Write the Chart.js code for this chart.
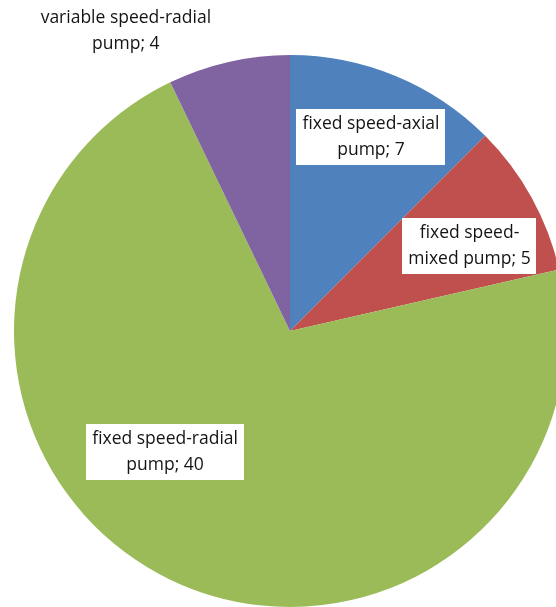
<!DOCTYPE html>
<html>
<head>
<meta charset="utf-8">
<script src="https://cdn.jsdelivr.net/npm/chart.js@4/dist/chart.umd.min.js"></script>
<style>
  html, body { margin: 0; padding: 0; background: #ffffff; overflow: hidden; width: 556px; height: 607px; }
  #wrap { position: absolute; left: 0; top: 0; width: 580px; height: 640px; }
</style>
</head>
<body>
<div id="wrap"><canvas id="pie" width="580" height="640"></canvas></div>
<script>
// Pump inventory by type
const categories = [
  'fixed speed-axial pump',
  'fixed speed-mixed pump',
  'fixed speed-radial pump',
  'variable speed-radial pump'
];
const pumpCounts = [7, 5, 40, 4];
const sliceColors = ['#4F81BD', '#C0504D', '#9BBB59', '#8064A2'];

// First line of each wrapped label; the rest of the name goes on line two with the value
const labelHeads = ['fixed speed-axial', 'fixed speed-', 'fixed speed-radial', 'variable speed-radial'];

// Label placement around each slice: angular shift (deg) from the slice middle and radius fraction
const labelShiftDeg = [0.2, 3.5, 20.2, -15.8];
const labelRadiusFrac = [0.76, 0.72, 0.63, 1.24];
const labelBoxed = [true, true, true, false];

const FONT = '17.5px "Open Sans", Lato, "Liberation Sans", sans-serif';
const LINE_H = 26;

const sliceLabels = {
  id: 'sliceLabels',
  afterDatasetsDraw(chart) {
    const ctx = chart.ctx;
    const meta = chart.getDatasetMeta(0);
    const values = chart.data.datasets[0].data;
    ctx.save();
    ctx.font = FONT;
    ctx.textAlign = 'center';
    ctx.textBaseline = 'middle';
    meta.data.forEach((arc, i) => {
      const p = arc.getProps(['x', 'y', 'startAngle', 'endAngle', 'outerRadius'], true);
      const mid = (p.startAngle + p.endAngle) / 2 + labelShiftDeg[i] * Math.PI / 180;
      const r = p.outerRadius * labelRadiusFrac[i];
      const cx = p.x + r * Math.cos(mid);
      const cy = p.y + r * Math.sin(mid);
      const name = chart.data.labels[i];
      const head = labelHeads[i];
      const tail = name.slice(head.length).trim();
      const lines = [head, (tail ? tail + '; ' : '') + values[i]];
      const w = Math.max(...lines.map(l => ctx.measureText(l).width));
      const h = lines.length * LINE_H;
      if (labelBoxed[i]) {
        ctx.fillStyle = '#ffffff';
        const bw = w + 12, bh = h + 4;
        ctx.fillRect(Math.round(cx - bw / 2), Math.round(cy - bh / 2), Math.round(bw), Math.round(bh));
      }
      ctx.fillStyle = '#141414';
      lines.forEach((l, k) => {
        ctx.fillText(l, cx, cy - h / 2 + LINE_H * (k + 0.5));
      });
    });
    ctx.restore();
  }
};

new Chart(document.getElementById('pie'), {
  type: 'pie',
  data: {
    labels: categories,
    datasets: [{
      data: pumpCounts,
      backgroundColor: sliceColors,
      borderWidth: 0,
      hoverOffset: 0
    }]
  },
  options: {
    responsive: false,
    devicePixelRatio: 1,
    animation: false,
    layout: { padding: { left: 14, top: 55, right: 14, bottom: 33 } },
    plugins: {
      legend: { display: false },
      tooltip: { enabled: false }
    }
  },
  plugins: [sliceLabels]
});
</script>
</body>
</html>
